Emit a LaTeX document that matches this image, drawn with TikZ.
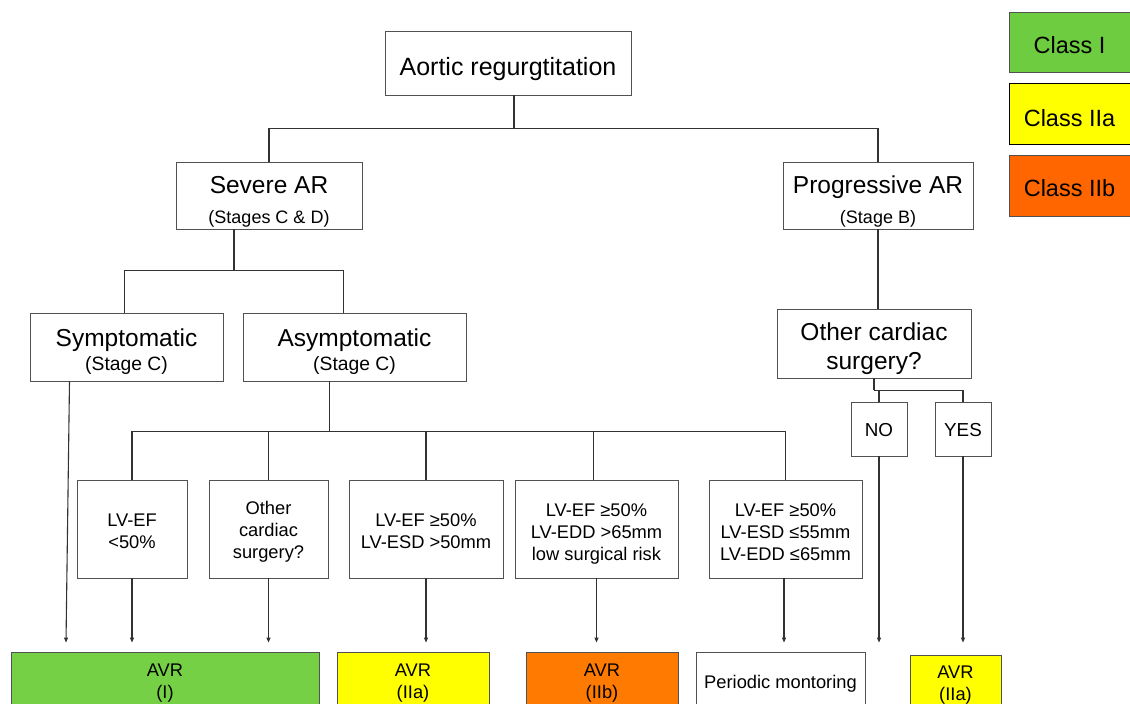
\documentclass[tikz,border=0pt]{standalone}
\usepackage{fontspec}
\setmainfont{Liberation Sans}
\usetikzlibrary{arrows.meta}
\definecolor{cgreen}{RGB}{118,208,70}
\definecolor{cyellow}{RGB}{255,255,0}
\definecolor{corange}{RGB}{255,122,0}
\definecolor{corangeL}{RGB}{255,102,0}
\definecolor{lgreen}{RGB}{110,204,64}
\definecolor{lincol}{RGB}{50,50,50}
\begin{document}
\begin{tikzpicture}[x=1pt,y=-1pt,
  box/.style={draw=lincol!85, line width=0.9pt, fill=white, align=center, inner sep=0pt, text depth=0pt},
  big/.style={font=\fontsize{24.5}{30}\selectfont},
  mid/.style={font=\fontsize{18.3}{22}\selectfont},
  leg/.style={box, font=\fontsize{23.5}{28}\selectfont, minimum width=121},
  conn/.style={draw=lincol, line width=1.1pt},
  arr/.style={conn, -{Triangle[length=5pt,width=4pt]}}]
\clip (0,0) rectangle (1130,704);
\fill[white] (0,0) rectangle (1130,704);
% top level
\node[box,font=\fontsize{25}{30}\selectfont,text height=24pt,minimum width=246,minimum height=64] (ar) at (508,63) {Aortic regurgtitation};
\node[box,big,text height=55.6pt,minimum width=186,minimum height=67] (sev) at (269,195.5) {Severe AR\\{\fontsize{18}{22}\selectfont (Stages C \& D)}};
\node[box,big,text height=55.6pt,minimum width=190,minimum height=67] (prog) at (878,195.5) {Progressive AR\\{\fontsize{18}{22}\selectfont (Stage B)}};
\node[box,font=\fontsize{24.5}{24}\selectfont,text height=47.4pt,minimum width=193,minimum height=68] (sym) at (126.5,347) {Symptomatic\\{\fontsize{19.3}{22}\selectfont (Stage C)}};
\node[box,font=\fontsize{24.5}{24}\selectfont,text height=47.4pt,minimum width=223,minimum height=68] (asym) at (354.5,347) {Asymptomatic\\{\fontsize{19.3}{22}\selectfont (Stage C)}};
\node[box,font=\fontsize{24.5}{29}\selectfont,text height=51pt,minimum width=194,minimum height=69] (ocs) at (874,343.5) {Other cardiac\\surgery?};
\node[box,font=\fontsize{18.8}{22}\selectfont,text height=15.4pt,minimum width=56,minimum height=54] (no) at (879,429) {NO};
\node[box,font=\fontsize{18.8}{22}\selectfont,text height=15.4pt,minimum width=56,minimum height=54] (yes) at (963,429) {YES};
% criteria
\node[box,mid,text height=39pt,minimum width=110,minimum height=98] (c1) at (132,529) {LV-EF\\{<}50\%};
\node[box,mid,text height=58.6pt,minimum width=119,minimum height=98] (c2) at (268.5,529) {Other\\cardiac\\surgery?};
\node[box,mid,text height=38.6pt,minimum width=154,minimum height=98] (c3) at (426,529) {LV-EF ≥50\%\\LV-ESD {>}50mm};
\node[box,mid,text height=62pt,minimum width=163,minimum height=98] (c4) at (596.5,529) {LV-EF ≥50\%\\LV-EDD {>}65mm\\low surgical risk};
\node[box,mid,text height=62pt,minimum width=153,minimum height=98] (c5) at (785.5,529) {LV-EF ≥50\%\\LV-ESD ≤55mm\\LV-EDD ≤65mm};
% results
\node[box,mid,text height=36pt,fill=cgreen,minimum width=308,minimum height=56] (r1) at (165,680) {AVR\\(I)};
\node[box,mid,text height=36pt,fill=cyellow,minimum width=152,minimum height=56] (r2) at (413,680) {AVR\\(IIa)};
\node[box,mid,text height=36pt,fill=corange,minimum width=152,minimum height=56] (r3) at (602,680) {AVR\\(IIb)};
\node[box,mid,text height=16pt,minimum width=169,minimum height=56] (r4) at (780.5,680) {Periodic montoring};
\node[box,mid,text height=32pt,fill=cyellow,minimum width=91,minimum height=58] (r5) at (955.5,684) {AVR\\(IIa)};
% legend
\node[leg,fill=lgreen,text height=22.6pt,minimum height=60] (l1) at (1069.5,42) {Class I};
\node[leg,draw=black,fill=cyellow,text height=25pt,minimum height=61] (l2) at (1069.5,113.5) {Class IIa};
\node[leg,fill=corangeL,text height=21.8pt,minimum height=61] (l3) at (1069.5,185.5) {Class IIb};
% connectors
\draw[conn] ([xshift=6pt]ar.south) -- ++(0,33) coordinate (j1);
\draw[conn] (sev.north) |- (j1) -| (prog.north);
\draw[conn] ([xshift=-35pt]sev.south) -- ++(0,41) coordinate (j2);
\draw[conn] ([xshift=-2pt]sym.north) |- (j2) -| ([xshift=-11pt]asym.north);
\draw[conn] ([xshift=-25pt]asym.south) -- ++(0,50) coordinate (j3);
\draw[conn] (c1.north) |- (j3) -| (c5.north);
\draw[conn] (c2.north) -- (c2.north |- j3);
\draw[conn] (c3.north) -- (c3.north |- j3);
\draw[conn] ([xshift=-3pt]c4.north) -- ([xshift=-3pt]c4.north |- j3);
\draw[conn] (prog.south) -- (prog.south |- ocs.north);
\draw[conn] (ocs.south) -- ++(0,12) coordinate (j4);
\draw[conn] (no.north) |- (j4) -| (yes.north);
% arrows
\draw[arr] ([xshift=-57pt]sym.south) -- ([xshift=-99pt,yshift=9pt]r1.north);
\draw[arr] (c1.south) -- ([yshift=9pt]c1.south |- r1.north);
\draw[arr] (c2.south) -- ([yshift=9pt]c2.south |- r1.north);
\draw[arr] (c3.south) -- ([yshift=9pt]c3.south |- r2.north);
\draw[arr] (c4.south) -- ([yshift=9pt]c4.south |- r3.north);
\draw[arr] ([xshift=-1.5pt]c5.south) -- ([xshift=-1.5pt,yshift=9pt]c5.south |- r4.north);
\draw[arr] (no.south) -- ([yshift=9pt]no.south |- r4.north);
\draw[arr] (yes.south) -- ([yshift=12pt]yes.south |- r5.north);
\end{tikzpicture}
\end{document}
